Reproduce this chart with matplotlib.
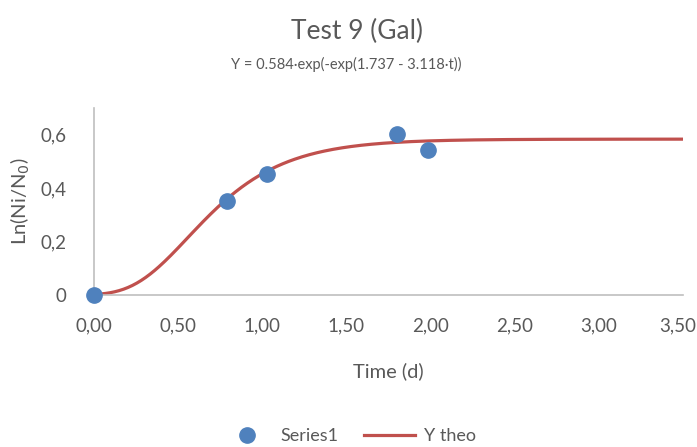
"""Gompertz growth fit for Test 9 (Gal): measured points plus model curve."""

import matplotlib.pyplot as plt
import matplotlib.transforms as mtransforms
import numpy as np

plt.rcParams["font.family"] = ["Lato", "DejaVu Sans"]

# measured data
time_d = [0.00, 0.79, 1.03, 1.80, 1.985]
ln_ratio = [0.0, 0.352, 0.455, 0.602, 0.545]

# Gompertz parameters, as printed under the title
A, B, C = 0.584, 1.737, 3.118

x_ticks = [0.0, 0.5, 1.0, 1.5, 2.0, 2.5, 3.0, 3.5]
y_ticks = [0.0, 0.2, 0.4, 0.6]

TEXT = "#595959"
AXIS = "#bfbfbf"

fig = plt.figure(figsize=(6.97, 4.47), dpi=100)
ax = fig.add_axes([0.1349, 0.340, 0.845, 0.418])

t = np.linspace(0, 3.5, 400)
y_theo = A * np.exp(-np.exp(B - C * t))

ax.plot(time_d, ln_ratio, "o", color="#4f81bd", markersize=11, label="Series1",
        zorder=3, clip_on=False)
ax.plot(t, y_theo, color="#c0504d", linewidth=2.3, label="Y theo", zorder=2)

ax.set_xlim(0, 3.5)
ax.set_ylim(0, 0.7)
ax.set_xticks(x_ticks)
ax.set_xticklabels([f"{v:.2f}".replace(".", ",") for v in x_ticks])
ax.set_yticks(y_ticks)
ax.set_yticklabels(["0"] + [f"{v:.1f}".replace(".", ",") for v in y_ticks[1:]])
ax.tick_params(length=0, labelsize=13.5, colors=TEXT)
ax.tick_params(axis="x", pad=16)
ax.tick_params(axis="y", pad=20)

# nudge the last x label so it stays inside the figure
last = ax.get_xticklabels()[-1]
last.set_transform(last.get_transform()
                   + mtransforms.ScaledTranslation(-5 / 100, 0, fig.dpi_scale_trans))

for side in ("top", "right"):
    ax.spines[side].set_visible(False)
for side in ("left", "bottom"):
    ax.spines[side].set_color(AXIS)
    ax.spines[side].set_linewidth(1.2)
ax.patch.set_visible(False)

ax.set_xlabel("Time (d)", fontsize=14.5, color=TEXT, labelpad=20)
ax.set_ylabel(r"Ln(Ni/N$_0$)", fontsize=14.5, color=TEXT, labelpad=6)

fig.text(0.512, 0.930, "Test 9 (Gal)", ha="center", va="center", fontsize=19, color=TEXT)
fig.text(0.497, 0.855, "Y = 0.584·exp(-exp(1.737 - 3.118·t))", ha="center", va="center",
         fontsize=10.5, color=TEXT)

fig.legend(loc="center", bbox_to_anchor=(0.50, 0.025), ncol=2, frameon=False,
           fontsize=13, labelcolor=TEXT, handlelength=2.8, columnspacing=1.4,
           handletextpad=0.5)

fig.savefig("out.png", dpi=100)
plt.close(fig)
